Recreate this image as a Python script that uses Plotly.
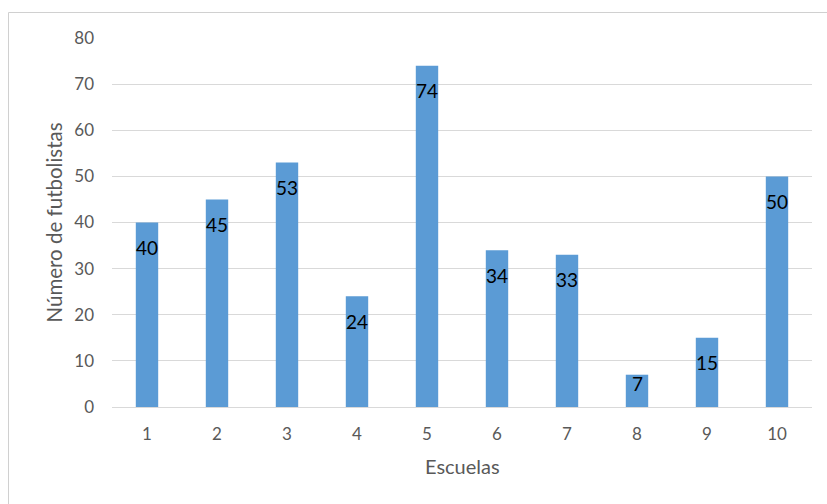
import plotly.graph_objects as go

# Data: number of football players per school
escuelas = ["1", "2", "3", "4", "5", "6", "7", "8", "9", "10"]
futbolistas = [40, 45, 53, 24, 74, 34, 33, 7, 15, 50]
y_ticks = [0, 10, 20, 30, 40, 50, 60, 70, 80]

W, H = 827, 504
ML, MR, MT, MB = 112, 15, 38, 97
plot_h = H - MT - MB
plot_w = W - ML - MR
y_max = 80
px_per_unit = plot_h / y_max

BAR = "#5B9BD5"
GRID = "#d9d9d9"
TXT = "#595959"
FONT = "Lato"

fig = go.Figure()
fig.add_trace(go.Bar(
    x=escuelas, y=futbolistas, marker_color=BAR, width=0.32,
    marker_line_width=0, hoverinfo="x+y",
))

# value labels just inside the top of each bar (category position = index)
for i, val in enumerate(futbolistas):
    bar_px = val * px_per_unit
    shift = -min(25, bar_px - 23)
    fig.add_annotation(x=i, y=val, yshift=shift, text=str(val), showarrow=False,
                       font=dict(family=FONT, size=19, color="black"),
                       xanchor="center", yanchor="middle")

# axis titles
fig.add_annotation(xref="paper", yref="paper", x=0.5, y=(H - MB - 466) / plot_h,
                   text="Escuelas", showarrow=False, xanchor="center", yanchor="middle",
                   font=dict(family=FONT, size=20, color=TXT))
fig.add_annotation(xref="paper", yref="paper", x=(53 - ML) / plot_w, y=0.5,
                   text="Número de futbolistas", showarrow=False, textangle=-90,
                   xanchor="center", yanchor="middle",
                   font=dict(family=FONT, size=20.5, color=TXT))

# chart frame
fig.add_shape(type="rect", xref="paper", yref="paper",
              x0=(8.5 - ML) / plot_w, x1=(W + 5 - ML) / plot_w,
              y0=(H - MB - (H + 5)) / plot_h, y1=(H - MB - 12.5) / plot_h,
              line=dict(color="#d0d0d0", width=1), fillcolor="rgba(0,0,0,0)", layer="below")

fig.update_layout(
    width=W, height=H, margin=dict(l=ML, r=MR, t=MT, b=MB),
    paper_bgcolor="white", plot_bgcolor="white", showlegend=False,
    font=dict(family=FONT, color=TXT),
)
fig.update_xaxes(type="category", range=[-0.5, len(escuelas) - 0.5],
                 showgrid=False, showline=True, linecolor=GRID, linewidth=1,
                 ticks="", tickfont=dict(family=FONT, size=17, color=TXT),
                 ticklabelstandoff=12, zeroline=False)
fig.update_yaxes(range=[0, y_max], tickvals=y_ticks, showgrid=True, gridcolor=GRID, gridwidth=1,
                 zeroline=False, showline=False, ticks="",
                 tickfont=dict(family=FONT, size=17, color=TXT), ticklabelstandoff=17)

fig.write_html("out.html")
